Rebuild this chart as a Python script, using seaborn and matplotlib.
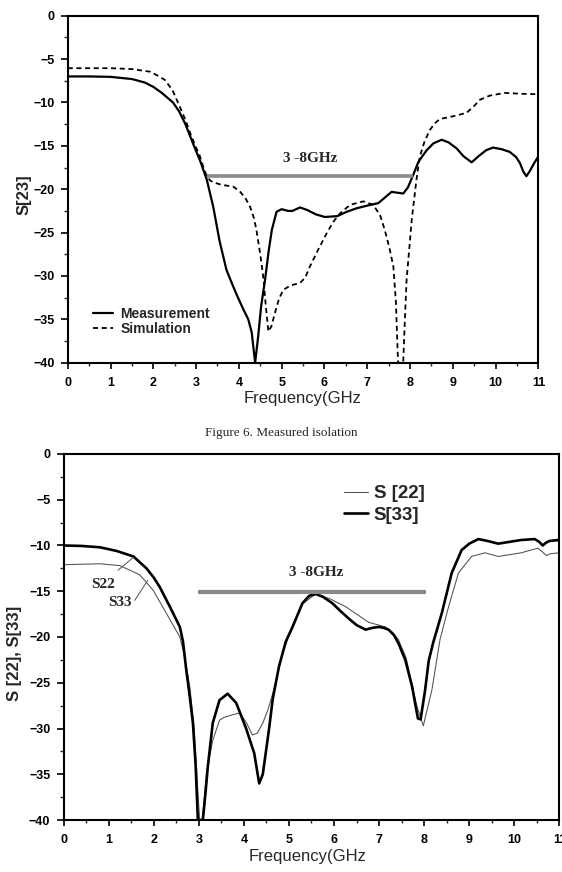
import numpy as np
import pandas as pd
import matplotlib
matplotlib.use("Agg")
import matplotlib.pyplot as plt
import seaborn as sns
from matplotlib.ticker import MultipleLocator


# ---- top panel: S[23] isolation ----
meas_f = [0, 0.5, 1.0, 1.5, 1.8, 2.0, 2.2, 2.46, 2.6, 2.75, 2.95, 3.1, 3.25, 3.4,
          3.55, 3.71, 3.85, 3.97, 4.1, 4.22, 4.3, 4.38, 4.45, 4.52, 4.61, 4.7,
          4.77, 4.88, 5.0, 5.15, 5.25, 5.43, 5.6, 5.8, 6.01, 6.3, 6.52, 6.75,
          6.99, 7.26, 7.45, 7.57, 7.7, 7.84, 7.95, 8.07, 8.2, 8.39, 8.55, 8.74,
          8.9, 9.09, 9.25, 9.44, 9.6, 9.78, 9.94, 10.15, 10.33, 10.48, 10.57,
          10.65, 10.72, 10.8, 10.9, 11.0]
meas_db = [-7.0, -7.0, -7.05, -7.3, -7.7, -8.2, -8.9, -10.0, -11.0, -12.5, -15.0,
           -16.8, -18.9, -22.0, -26.0, -29.3, -31.0, -32.4, -33.8, -35.0, -36.5,
           -40.0, -37.0, -33.5, -30.5, -27.0, -24.7, -22.6, -22.3, -22.5, -22.5,
           -22.1, -22.4, -22.9, -23.2, -23.1, -22.6, -22.2, -21.9, -21.6, -20.8,
           -20.3, -20.4, -20.5, -19.8, -18.4, -16.8, -15.5, -14.7, -14.3, -14.6,
           -15.3, -16.2, -16.9, -16.2, -15.5, -15.2, -15.4, -15.7, -16.3, -17.0,
           -18.0, -18.5, -17.9, -17.0, -16.2]

sim_f = [0, 0.5, 1.0, 1.5, 1.92, 2.1, 2.27, 2.45, 2.62, 2.75, 2.86, 3.0, 3.09,
         3.18, 3.25, 3.33, 3.4, 3.6, 3.87, 4.03, 4.15, 4.26, 4.35, 4.41, 4.5,
         4.57, 4.63, 4.69, 4.76, 4.84, 4.94, 5.04, 5.2, 5.43, 5.55, 5.66, 5.85,
         6.05, 6.2, 6.36, 6.6, 6.91, 7.14, 7.3, 7.41, 7.52, 7.61, 7.67, 7.72,
         7.84, 7.88, 7.92, 7.98, 8.04, 8.15, 8.23, 8.34, 8.46, 8.58, 8.7, 9.0,
         9.32, 9.5, 9.63, 9.87, 10.22, 10.6, 11.0]
sim_db = [-6.05, -6.05, -6.05, -6.15, -6.45, -6.9, -7.4, -8.6, -10.5, -12.0, -13.5,
          -15.2, -16.2, -17.6, -18.5, -19.0, -19.2, -19.5, -19.7, -20.3, -21.0,
          -22.0, -23.3, -24.7, -27.5, -30.1, -33.5, -36.4, -35.8, -34.3, -32.6,
          -31.6, -31.1, -30.8, -30.2, -28.9, -27.0, -25.1, -23.8, -22.8, -21.8,
          -21.4, -21.8, -23.0, -24.7, -26.8, -28.9, -33.0, -40.0, -40.0, -35.0,
          -30.4, -27.0, -23.5, -18.9, -16.2, -14.5, -13.2, -12.4, -11.9, -11.6,
          -11.2, -10.4, -9.7, -9.2, -8.9, -9.0, -9.05]

# ---- bottom panel: S[22], S[33] ----
s33_f = [0, 0.4, 0.81, 1.18, 1.55, 1.84, 2.0, 2.13, 2.36, 2.58, 2.65, 2.72, 2.8,
         2.87, 2.93, 2.98, 3.09, 3.15, 3.2, 3.31, 3.46, 3.64, 3.83, 4.05, 4.23,
         4.34, 4.42, 4.49, 4.56, 4.64, 4.78, 4.93, 5.08, 5.3, 5.45, 5.59, 5.75,
         5.96, 6.15, 6.33, 6.5, 6.7, 6.85, 6.99, 7.1, 7.21, 7.33, 7.43, 7.58,
         7.73, 7.86, 7.92, 8.02, 8.1, 8.2, 8.39, 8.61, 8.83, 9.0, 9.2, 9.4,
         9.64, 9.9, 10.15, 10.45, 10.55, 10.63, 10.7, 10.78, 11.0]
s33_db = [-10.0, -10.05, -10.2, -10.6, -11.2, -12.5, -13.5, -14.5, -16.7, -18.9,
          -20.5, -23.5, -26.5, -29.4, -34.0, -40.0, -40.0, -37.0, -34.2, -29.4,
          -26.9, -26.2, -27.2, -30.0, -32.7, -36.0, -35.0, -32.5, -30.0, -26.8,
          -23.2, -20.5, -18.9, -16.3, -15.5, -15.3, -15.6, -16.3, -17.2, -18.0,
          -18.7, -19.2, -19.0, -18.9, -19.0, -19.2, -19.8, -20.7, -22.5, -25.4,
          -28.9, -29.0, -25.8, -22.6, -20.6, -17.4, -13.0, -10.5, -9.8, -9.3,
          -9.5, -9.8, -9.6, -9.4, -9.3, -9.6, -10.0, -9.7, -9.5, -9.4]

s22_f = [0, 0.81, 1.25, 1.69, 1.99, 2.28, 2.58, 2.69, 2.8, 2.9, 2.97, 3.02, 3.08,
         3.17, 3.31, 3.46, 3.55, 3.75, 3.9, 4.05, 4.19, 4.3, 4.42, 4.53, 4.64,
         4.86, 5.08, 5.3, 5.59, 5.9, 6.26, 6.5, 6.77, 7.14, 7.3, 7.43, 7.6, 7.84,
         7.98, 8.17, 8.35, 8.54, 8.76, 9.05, 9.35, 9.64, 9.9, 10.15, 10.52,
         10.62, 10.71, 10.8, 11.0]
s22_db = [-12.1, -12.0, -12.2, -13.2, -14.9, -17.4, -20.0, -22.2, -25.4, -30.0,
          -36.0, -40.0, -40.0, -34.9, -31.3, -29.1, -28.8, -28.5, -28.3, -29.3,
          -30.7, -30.5, -29.4, -28.0, -26.2, -21.8, -18.7, -16.4, -15.3, -15.8,
          -16.7, -17.5, -18.4, -18.9, -19.5, -20.3, -22.3, -27.6, -29.7, -25.8,
          -20.3, -16.7, -13.0, -11.2, -10.8, -11.2, -11.0, -10.8, -10.3, -10.7,
          -11.1, -10.9, -10.8]

# band marker (3-8 GHz) and small annotations
band_top = (3.25, 8.07, -18.5)
band_bot = (2.98, 8.04, -15.05)
band_label = "3 -8GHz"
lead_s22 = ((1.21, -12.7), (1.55, -11.3))
lead_s33 = ((1.58, -16.0), (1.87, -13.8))

top = pd.concat([
    pd.DataFrame({"f": meas_f, "db": meas_db, "trace": "Measurement"}),
    pd.DataFrame({"f": sim_f, "db": sim_db, "trace": "Simulation"}),
])
bot = pd.concat([
    pd.DataFrame({"f": s22_f, "db": s22_db, "trace": "S [22]"}),
    pd.DataFrame({"f": s33_f, "db": s33_db, "trace": "S[33]"}),
])

sns.set_style("ticks")
plt.rcParams["font.family"] = ["Liberation Sans", "DejaVu Sans"]
plt.rcParams["font.weight"] = "bold"
plt.rcParams["axes.linewidth"] = 1.5
plt.rcParams["xtick.major.width"] = 1.2
plt.rcParams["ytick.major.width"] = 1.2
plt.rcParams["xtick.minor.width"] = 1.0
plt.rcParams["ytick.minor.width"] = 1.0

SERIF = ["Liberation Serif", "DejaVu Serif"]

fig = plt.figure(figsize=(5.62, 8.72), dpi=100)
ax1 = fig.add_axes([0.1205, 0.584, 0.8375, 0.398])
ax2 = fig.add_axes([0.113, 0.0596, 0.8825, 0.4198])


def style_axes(ax):
    ax.set_xlim(0, 11)
    ax.set_ylim(-40, 0)
    ax.xaxis.set_major_locator(MultipleLocator(1))
    ax.xaxis.set_minor_locator(MultipleLocator(0.5))
    ax.yaxis.set_major_locator(MultipleLocator(5))
    ax.yaxis.set_minor_locator(MultipleLocator(2.5))
    ax.tick_params(axis="both", which="major", direction="out", labelsize=9,
                   colors="black")
    ax.tick_params(axis="y", which="major", length=5, pad=4.5)
    ax.tick_params(axis="y", which="minor", length=3)
    ax.tick_params(axis="x", which="major", length=4, pad=6)
    ax.tick_params(axis="x", which="minor", length=2.5)
    for s in ax.spines.values():
        s.set_visible(True)
        s.set_color("black")
    ax.set_xlabel("Frequency(GHz", fontsize=12, fontweight="normal")


# top panel
sns.lineplot(data=top, x="f", y="db", hue="trace", style="trace",
             palette={"Measurement": "black", "Simulation": "black"},
             dashes={"Measurement": "", "Simulation": (2.8, 2.0)},
             size="trace", sizes={"Measurement": 1.6, "Simulation": 1.3},
             estimator=None, sort=False, ax=ax1)
style_axes(ax1)
ax1.hlines(band_top[2], band_top[0], band_top[1], color="#8a8a8a", lw=2.6)
ax1.text((band_top[0] + band_top[1]) / 2, band_top[2] + 2.0, band_label,
         family=SERIF, fontsize=11, fontweight="bold", ha="center", va="center")
ax1.set_ylabel("S[23]", fontsize=12, fontweight="bold")
ax1.yaxis.set_label_coords(-0.076, 0.483)
ax1.xaxis.set_label_coords(0.4985, -0.082)
h, l = ax1.get_legend_handles_labels()
ax1.legend(h, l, loc="upper left", bbox_to_anchor=(0.054, 0.162), frameon=False,
           fontsize=10, handlelength=1.45, handletextpad=0.5, labelspacing=0.1,
           borderpad=0, borderaxespad=0)

# bottom panel
sns.lineplot(data=bot, x="f", y="db", hue="trace",
             palette={"S [22]": "#505050", "S[33]": "black"},
             size="trace", sizes={"S [22]": 0.75, "S[33]": 1.9},
             estimator=None, sort=False, ax=ax2)
style_axes(ax2)
ax2.hlines(band_bot[2], band_bot[0], band_bot[1], color="#8a8a8a", lw=3.0)
ax2.text((band_bot[0] + band_bot[1]) / 2 + 0.1, band_bot[2] + 2.05, band_label,
         family=SERIF, fontsize=11, fontweight="bold", ha="center", va="center")
ax2.text(0.87, -14.3, "S22", family=SERIF, fontsize=11, fontweight="bold",
         ha="center", va="center")
ax2.text(1.25, -16.25, "S33", family=SERIF, fontsize=11, fontweight="bold",
         ha="center", va="center")
for a, b in (lead_s22, lead_s33):
    ax2.annotate("", xy=b, xytext=a,
                 arrowprops=dict(arrowstyle="-", color="#505050", lw=0.7,
                                 shrinkA=0, shrinkB=0))
ax2.set_ylabel("S [22], S[33]", fontsize=12, fontweight="bold")
ax2.yaxis.set_label_coords(-0.084, 0.456)
ax2.xaxis.set_label_coords(0.493, -0.08)
h, l = ax2.get_legend_handles_labels()
ax2.legend(h, l, loc="upper left", bbox_to_anchor=(0.565, 0.915), frameon=False,
           fontsize=13.5, handlelength=1.3, handletextpad=0.3, labelspacing=0.25,
           borderpad=0, borderaxespad=0)

fig.text(0.5, 1 - 433 / 872, "Figure 6. Measured isolation", family=SERIF,
         fontsize=9.5, fontweight="normal", ha="center", va="center")

fig.savefig("out.png", dpi=100)
